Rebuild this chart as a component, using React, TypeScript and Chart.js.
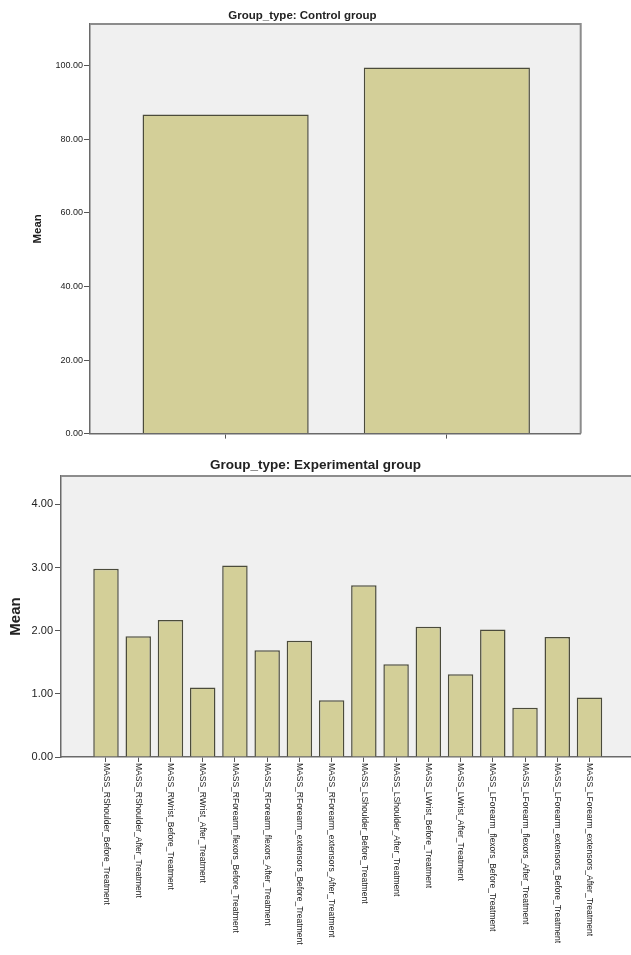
import { useEffect, useRef } from 'react';
import { Chart, registerables } from 'chart.js';

Chart.register(...registerables);

// ---------- data ----------
const controlCategories = ['Before_Treatment', 'After_Treatment'];
const controlMeans = [86.8, 99.6];
const controlYTicks = [0, 20, 40, 60, 80, 100];

const expLabels = [
  'MASS_RShoulder_Before_Treatment',
  'MASS_RShoulder_After_Treatment',
  'MASS_RWrist_Before_Treatment',
  'MASS_RWrist_After_Treatment',
  'MASS_RForearm_flexors_Before_Treatment',
  'MASS_RForearm_flexors_After_Treatment',
  'MASS_RForearm_extensors_Before_Treatment',
  'MASS_RForearm_extensors_After_Treatment',
  'MASS_LShoulder_Before_Treatment',
  'MASS_LShoulder_After_Treatment',
  'MASS_LWrist_Before_Treatment',
  'MASS_LWrist_After_Treatment',
  'MASS_LForearm_flexors_Before_Treatment',
  'MASS_LForearm_flexors_After_Treatment',
  'MASS_LForearm_extensors_Before_Treatment',
  'MASS_LForearm_extensors_After_Treatment',
];
const expMeans = [2.98, 1.91, 2.17, 1.10, 3.03, 1.69, 1.84, 0.90, 2.72, 1.47, 2.06, 1.31, 2.02, 0.78, 1.90, 0.94];
const expYTicks = [0, 1, 2, 3, 4];

// ---------- styles ----------
const FONT = "'Liberation Sans', Arial, sans-serif";
const BAR_FILL = '#d3cf98';
const BAR_EDGE = '#4b4b3b';
const PLOT_BG = '#f0f0f0';
const FRAME = '#8c8c8c';
const AXIS = '#6a6a6a';
const TEXT = '#222222';

const framePlugin = {
  id: 'frame',
  beforeDraw(chart: any) {
    const { ctx, chartArea: a } = chart;
    ctx.save();
    ctx.fillStyle = PLOT_BG;
    ctx.fillRect(a.left, a.top, a.right - a.left, a.bottom - a.top);
    ctx.restore();
  },
  afterDraw(chart: any, _args: any, opts: any) {
    const { ctx, chartArea: a } = chart;
    ctx.save();
    ctx.strokeStyle = FRAME;
    ctx.lineWidth = 2;
    ctx.beginPath();
    ctx.moveTo(a.left, a.top);
    ctx.lineTo(a.right, a.top);
    if (opts && opts.right) {
      ctx.lineTo(a.right, a.bottom);
    }
    ctx.stroke();
    ctx.restore();
  },
};

function TopChart() {
  const ref = useRef<HTMLCanvasElement>(null);
  useEffect(() => {
    const chart = new Chart(ref.current as HTMLCanvasElement, {
      type: 'bar',
      data: {
        labels: controlCategories,
        datasets: [
          {
            data: controlMeans.map((v, i) => ({ x: i + 1, y: v })) as any,
            backgroundColor: BAR_FILL,
            borderColor: BAR_EDGE,
            borderWidth: 1.5,
            barPercentage: 0.751,
            categoryPercentage: 1,
          },
        ],
      },
      options: {
        animation: false,
        responsive: false,
        maintainAspectRatio: false,
        layout: { padding: { left: 24, right: 50.3, top: 0, bottom: 0 } },
        plugins: {
          legend: { display: false },
          tooltip: { enabled: false },
          title: {
            display: true,
            text: 'Group_type: Control group',
            color: TEXT,
            font: { family: FONT, size: 11.5, weight: 'bold' },
            padding: { top: 8.6, bottom: 1.6 },
          },
          frame: { right: true },
        } as any,
        scales: {
          x: {
            type: 'linear',
            offset: false,
            min: 0.387,
            max: 2.605,
            afterBuildTicks: (s: any) => {
              s.ticks = controlMeans.map((_, i) => ({ value: i + 1 }));
            },
            ticks: { callback: () => '', padding: 0 },
            grid: { display: true, offset: false, drawOnChartArea: false, drawTicks: true, tickLength: 5, color: '#555' },
            border: { display: true, color: AXIS, width: 1.5 },
            afterFit: (s: any) => {
              s.height = 6;
            },
          },
          y: {
            min: 0,
            max: 111.4,
            afterBuildTicks: (s: any) => {
              s.ticks = controlYTicks.map((v) => ({ value: v }));
            },
            ticks: {
              callback: (v: any) => Number(v).toFixed(2),
              color: TEXT,
              font: { family: FONT, size: 9 },
              padding: 1,
            },
            grid: { display: true, drawOnChartArea: false, drawTicks: true, tickLength: 6, color: '#555' },
            border: { display: true, color: AXIS, width: 1.5 },
            title: {
              display: true,
              text: 'Mean',
              color: TEXT,
              font: { family: FONT, size: 11.5, weight: 'bold' },
              padding: { top: 7.4, bottom: 0 },
            },
            afterFit: (s: any) => {
              s.width = 66;
            },
          },
        } as any,
      },
      plugins: [framePlugin as any],
    });
    return () => chart.destroy();
  }, []);
  return (
    <canvas
      ref={ref}
      width={631}
      height={440}
      style={{ position: 'absolute', left: 0, top: 0, width: 631, height: 440, display: 'block' }}
    />
  );
}

function BottomChart() {
  const ref = useRef<HTMLCanvasElement>(null);
  useEffect(() => {
    const chart = new Chart(ref.current as HTMLCanvasElement, {
      type: 'bar',
      data: {
        labels: expLabels,
        datasets: [
          {
            data: expMeans.map((v, i) => ({ x: i + 1, y: v })) as any,
            backgroundColor: BAR_FILL,
            borderColor: BAR_EDGE,
            borderWidth: 1.5,
            barPercentage: 0.79,
            categoryPercentage: 1,
          },
        ],
      },
      options: {
        animation: false,
        responsive: false,
        maintainAspectRatio: false,
        layout: { padding: { left: 0, right: 0, top: 0, bottom: 0 } },
        plugins: {
          legend: { display: false },
          tooltip: { enabled: false },
          title: {
            display: true,
            text: 'Group_type: Experimental group',
            color: TEXT,
            font: { family: FONT, size: 13.5, weight: 'bold' },
            padding: { top: 16.9, bottom: 2.9 },
          },
          frame: { right: false },
        } as any,
        scales: {
          x: {
            type: 'linear',
            offset: false,
            min: -0.396,
            max: 17.288,
            afterBuildTicks: (s: any) => {
              s.ticks = expLabels.map((_, i) => ({ value: i + 1 }));
            },
            ticks: {
              autoSkip: false,
              minRotation: 90,
              maxRotation: 90,
              padding: 1,
              color: TEXT,
              font: { family: FONT, size: 8.5 },
              callback: (v: any) => expLabels[Math.round(Number(v)) - 1] ?? '',
            },
            grid: { display: true, offset: false, drawOnChartArea: false, drawTicks: true, tickLength: 5, color: '#555' },
            border: { display: true, color: AXIS, width: 1.5 },
            afterFit: (s: any) => {
              s.height = 198;
              s.paddingLeft = 0;
              s.paddingRight = 0;
              s.labelRotation = -90;
              s._getXAxisLabelAlignment = () => 'left';
            },
          },
          y: {
            min: 0,
            max: 4.448,
            afterBuildTicks: (s: any) => {
              s.ticks = expYTicks.map((v) => ({ value: v }));
            },
            ticks: {
              callback: (v: any) => Number(v).toFixed(2),
              color: TEXT,
              font: { family: FONT, size: 11 },
              padding: 2,
            },
            grid: { display: true, drawOnChartArea: false, drawTicks: true, tickLength: 6, color: '#555' },
            border: { display: true, color: AXIS, width: 1.5 },
            title: {
              display: true,
              text: 'Mean',
              color: TEXT,
              font: { family: FONT, size: 15, weight: 'bold' },
              padding: { top: 6.5, bottom: 0 },
            },
            afterFit: (s: any) => {
              s.width = 61;
            },
          },
        } as any,
      },
      plugins: [framePlugin as any],
    });
    return () => chart.destroy();
  }, []);
  return (
    <canvas
      ref={ref}
      width={631}
      height={515}
      style={{ position: 'absolute', left: 0, top: 440, width: 631, height: 515, display: 'block' }}
    />
  );
}

export default function App() {
  return (
    <div
      style={{
        position: 'absolute',
        left: 0,
        top: 0,
        width: 631,
        height: 955,
        overflow: 'hidden',
        background: '#ffffff',
      }}
    >
      <TopChart />
      <BottomChart />
    </div>
  );
}
